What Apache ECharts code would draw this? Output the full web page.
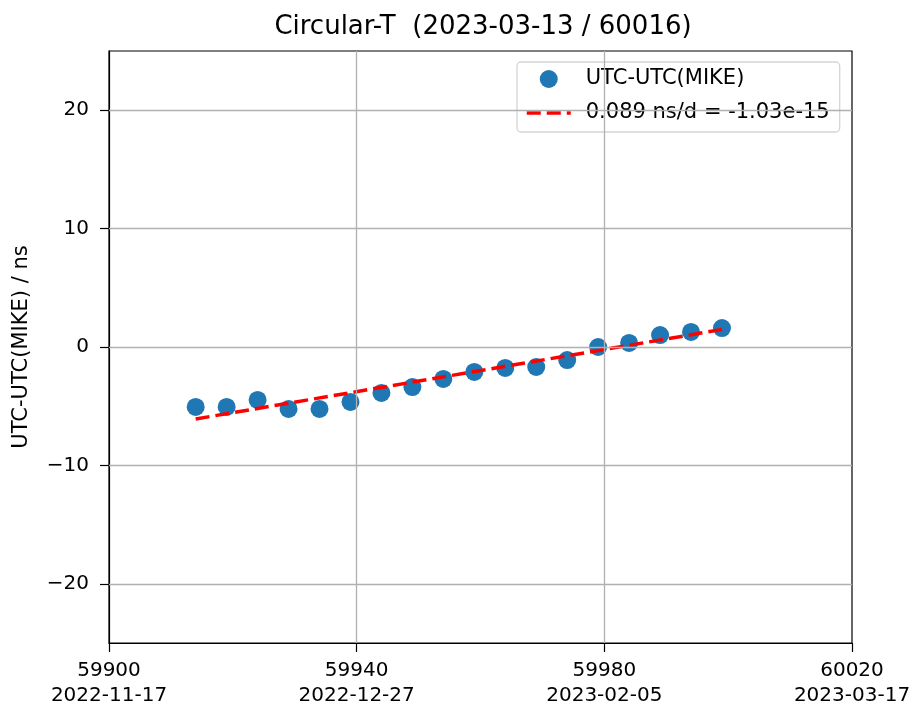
<!DOCTYPE html>
<html><head><meta charset="utf-8">
<script src="https://cdn.jsdelivr.net/npm/echarts@6/dist/echarts.min.js"></script>
<style>html,body{margin:0;padding:0;background:#fff}#c{width:915px;height:704px}</style>
</head><body><div id="c"></div>
<script>
const mjd = [59914, 59919, 59924, 59929, 59934, 59939, 59944, 59949, 59954, 59959, 59964, 59969, 59974, 59979, 59984, 59989, 59994, 59999];
const offsets = [-5.06, -5.06, -4.47, -5.23, -5.23, -4.64, -3.88, -3.38, -2.70, -2.11, -1.77, -1.69, -1.10, 0.00, 0.34, 1.01, 1.27, 1.60];
const fitMjd = [59914, 59999];
const fitValues = [-6.08, 1.48];
const xTickValues = [59900, 59940, 59980, 60020];
const xTickDates = ['2022-11-17', '2022-12-27', '2023-02-05', '2023-03-17'];
const yTickValues = [-20, -10, 0, 10, 20];
const xGridValues = [59940, 59980];
const titleText = 'Circular-T  (2023-03-13 / 60016)';
const seriesNames = ['UTC-UTC(MIKE)', '0.089 ns/d = -1.03e-15'];
const yAxisName = 'UTC-UTC(MIKE) / ns';

const FONT = 'DejaVu Sans';
const fmtNum = v => (v < 0 ? '\u2212' + Math.abs(v) : String(v));

const chart = echarts.init(document.getElementById('c'), null, {renderer: 'canvas'});
const gridLineData = yTickValues.map(v => ({yAxis: v})).concat(xGridValues.map(v => ({xAxis: v})));

chart.setOption({
  animation: false,
  backgroundColor: '#fff',
  title: {
    text: titleText,
    left: 478,
    textAlign: 'center',
    top: 9,
    textStyle: {fontFamily: FONT, fontSize: 26, fontWeight: 'normal', color: '#000'}
  },
  grid: {
    left: 109, right: 63, top: 51, bottom: 61,
    outerBoundsMode: 'none',
    containLabel: false,
    show: true, borderColor: '#000', borderWidth: 1.2, backgroundColor: 'transparent'
  },
  legend: {
    orient: 'vertical',
    left: 517, top: 62,
    padding: [6, 10, 8, 8],
    itemGap: 12,
    itemWidth: 44, itemHeight: 18,
    borderColor: '#d5d5d5', borderWidth: 1.3, borderRadius: 4,
    backgroundColor: 'rgba(255,255,255,0.85)',
    textStyle: {fontFamily: FONT, fontSize: 21, color: '#000', padding: [0, 0, 0, 10], lineHeight: 22},
    data: [
      {name: seriesNames[0], icon: 'circle'},
      {name: seriesNames[1], itemStyle: {opacity: 0}, lineStyle: {width: 3.5, color: '#ff0000', type: [14, 6]}}
    ]
  },
  xAxis: {
    type: 'value',
    min: xTickValues[0], max: xTickValues[xTickValues.length - 1], interval: 40,
    axisLine: {show: true, onZero: false, lineStyle: {color: '#000', width: 1.2}},
    axisTick: {show: true, length: 9, lineStyle: {color: '#000', width: 1.2}},
    splitLine: {show: false},
    axisLabel: {
      fontFamily: FONT, fontSize: 20, color: '#000', margin: 15, lineHeight: 25,
      formatter: v => {
        const i = xTickValues.indexOf(v);
        return i >= 0 ? v + '\n' + xTickDates[i] : '';
      }
    }
  },
  yAxis: {
    type: 'value',
    min: -25, max: 25, interval: 5,
    name: yAxisName, nameLocation: 'middle', nameGap: 77,
    nameTextStyle: {fontFamily: FONT, fontSize: 21, color: '#000'},
    axisLine: {show: true, onZero: false, lineStyle: {color: '#000', width: 1.2}},
    axisTick: {show: true, length: 9, customValues: yTickValues, lineStyle: {color: '#000', width: 1.2}},
    splitLine: {show: false},
    axisLabel: {
      fontFamily: FONT, fontSize: 20, color: '#000', margin: 20,
      customValues: yTickValues,
      formatter: v => (v % 10 === 0 ? fmtNum(v) : '')
    }
  },
  series: [
    {
      name: 'grid',
      type: 'line',
      data: fitMjd.map((x, i) => [x, fitValues[i]]),
      symbol: 'none',
      lineStyle: {opacity: 0},
      silent: true,
      z: 1,
      markLine: {
        silent: true,
        symbol: ['none', 'none'],
        label: {show: false},
        lineStyle: {color: '#b0b0b0', width: 1.3, type: 'solid'},
        data: gridLineData
      }
    },
    {
      name: seriesNames[0],
      type: 'scatter',
      data: mjd.map((x, i) => [x, offsets[i]]),
      symbol: 'circle',
      symbolSize: 18,
      itemStyle: {color: '#1f77b4', opacity: 1},
      z: 3
    },
    {
      name: seriesNames[1],
      type: 'line',
      data: fitMjd.map((x, i) => [x, fitValues[i]]),
      symbol: 'none',
      lineStyle: {color: '#ff0000', width: 3.5, type: [14, 6]},
      itemStyle: {color: '#ff0000'},
      z: 4
    }
  ]
});
</script>
</body></html>
